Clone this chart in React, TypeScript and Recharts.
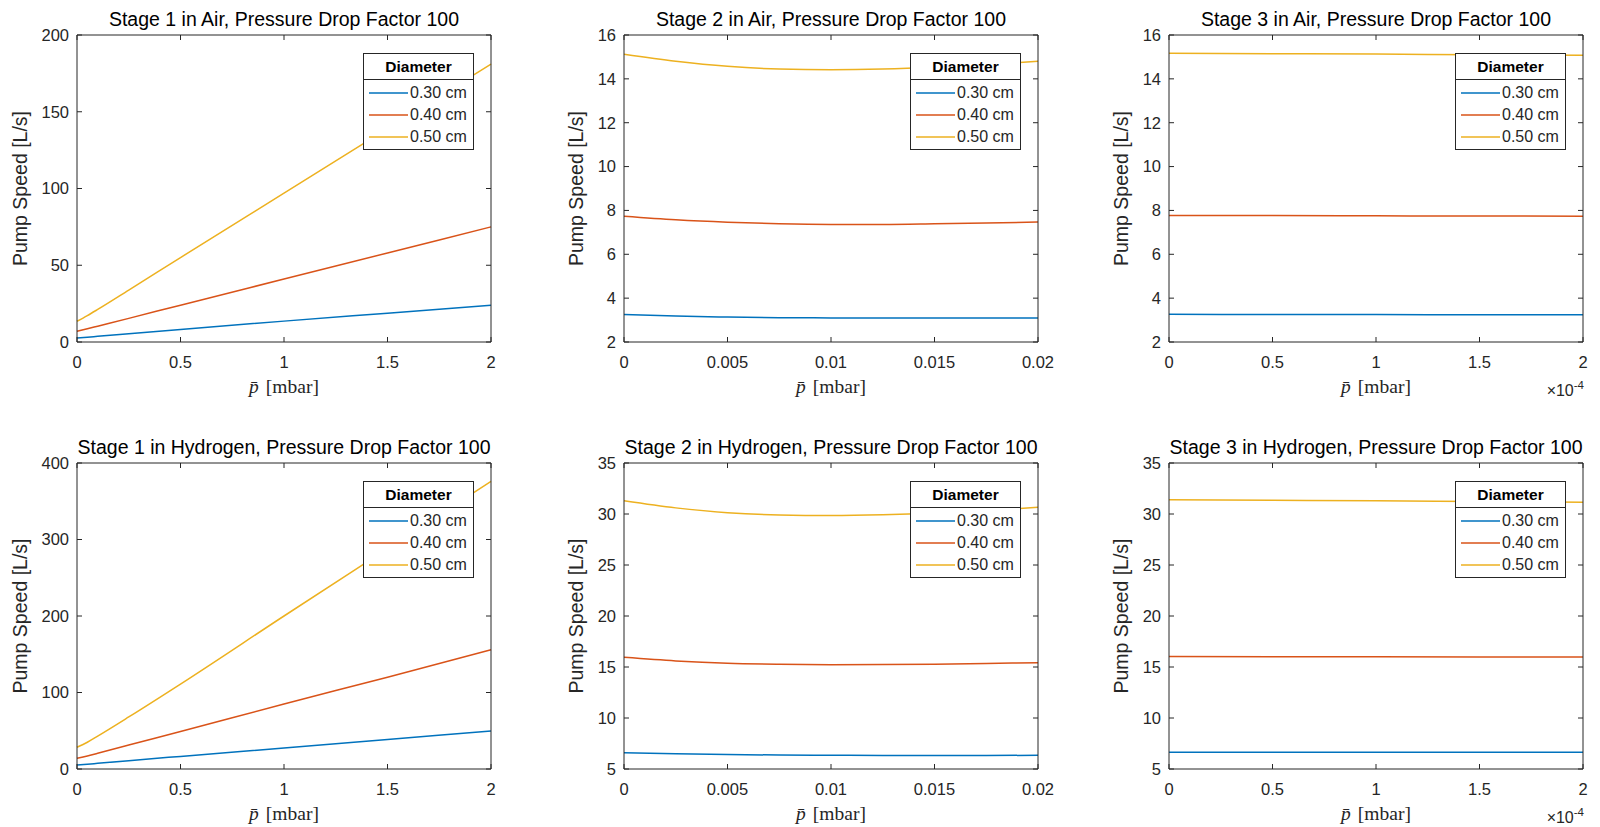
import { LineChart, Line, XAxis, YAxis, Legend, Label } from 'recharts'

// 2x3 grid of pump-speed curves, MATLAB-style boxed axes with inward ticks.

const FONT = '"Liberation Sans", Arial, Helvetica, sans-serif'
const SERIF = '"Liberation Serif", "DejaVu Serif", "Times New Roman", serif'
const INK = '#262626'

const diameters = ['0.30 cm', '0.40 cm', '0.50 cm']
const colors = ['#0072BD', '#D95319', '#EDB120']

// stage 1, p in mbar
const stage1P = [0, 0.05, 0.1, 0.25, 0.5, 1, 1.5, 2]
const s1AirD30 = [2.6, 3.1, 3.7, 5.4, 8.2, 13.6, 18.8, 24.0]
const s1AirD40 = [7.0, 8.6, 10.3, 15.4, 24.0, 41.0, 58.0, 75.0]
const s1AirD50 = [13.5, 17.2, 21.2, 33.8, 55.0, 97.0, 139.0, 181.0]
const s1H2D30 = [5.2, 6.2, 7.4, 10.9, 16.5, 27.5, 38.6, 49.7]
const s1H2D40 = [14.0, 17.0, 20.6, 31.3, 49.0, 85.0, 120.0, 156.0]
const s1H2D50 = [28.5, 35.0, 43.0, 68.0, 111.0, 200.0, 288.0, 376.0]

// stage 2
const stage2P = [0, 0.0025, 0.005, 0.0075, 0.01, 0.0125, 0.015, 0.0175, 0.02]
const s2AirD30 = [3.25, 3.18, 3.14, 3.11, 3.1, 3.09, 3.09, 3.09, 3.1]
const s2AirD40 = [7.73, 7.57, 7.46, 7.39, 7.36, 7.36, 7.39, 7.43, 7.47]
const s2AirD50 = [15.12, 14.8, 14.57, 14.45, 14.42, 14.45, 14.53, 14.65, 14.8]
const s2H2D30 = [6.6, 6.49, 6.42, 6.37, 6.35, 6.33, 6.33, 6.33, 6.34]
const s2H2D40 = [15.95, 15.6, 15.37, 15.27, 15.23, 15.24, 15.28, 15.35, 15.42]
const s2H2D50 = [31.3, 30.6, 30.12, 29.9, 29.85, 29.92, 30.08, 30.33, 30.65]

// stage 3
const stage3P = [0, 0.5e-4, 1e-4, 1.5e-4, 2e-4]
const s3AirD30 = [3.26, 3.255, 3.25, 3.245, 3.24]
const s3AirD40 = [7.77, 7.765, 7.755, 7.745, 7.74]
const s3AirD50 = [15.17, 15.15, 15.13, 15.1, 15.08]
const s3H2D30 = [6.65, 6.645, 6.64, 6.635, 6.63]
const s3H2D40 = [16.02, 16.01, 16.0, 15.99, 15.98]
const s3H2D50 = [31.4, 31.35, 31.3, 31.22, 31.15]

// tick labels
const stage1Ticks = [0, 0.5, 1, 1.5, 2]
const stage2Ticks = [0, 0.005, 0.01, 0.015, 0.02]
const stage3Ticks = [0, 0.5e-4, 1e-4, 1.5e-4, 2e-4]
const s1AirY = [0, 50, 100, 150, 200]
const s1H2Y = [0, 100, 200, 300, 400]
const airY = [2, 4, 6, 8, 10, 12, 14, 16]
const h2Y = [5, 10, 15, 20, 25, 30, 35]

const fmtPlain = (v: number) => String(v)
const fmtE4 = (v: number) => String(Math.round(v * 1e5) / 10)

// layout (page px)
const W = 414
const colLeft = [77, 624, 1169]
const rowTop = [35, 463]
const rowH = [307, 306]
const AX_L = 70
const AX_T = 40
const AX_R = 26
const AX_B = 62

interface PanelCfg {
  title: string
  x: number[]
  ys: number[][]
  xTicks: number[]
  yTicks: number[]
  fmt: (v: number) => string
  exp: boolean
  yLabOff: number
}

const panels: PanelCfg[] = [
  { title: 'Stage 1 in Air, Pressure Drop Factor 100', x: stage1P, ys: [s1AirD30, s1AirD40, s1AirD50], xTicks: stage1Ticks, yTicks: s1AirY, fmt: fmtPlain, exp: false, yLabOff: 55 },
  { title: 'Stage 2 in Air, Pressure Drop Factor 100', x: stage2P, ys: [s2AirD30, s2AirD40, s2AirD50], xTicks: stage2Ticks, yTicks: airY, fmt: fmtPlain, exp: false, yLabOff: 46 },
  { title: 'Stage 3 in Air, Pressure Drop Factor 100', x: stage3P, ys: [s3AirD30, s3AirD40, s3AirD50], xTicks: stage3Ticks, yTicks: airY, fmt: fmtE4, exp: true, yLabOff: 46 },
  { title: 'Stage 1 in Hydrogen, Pressure Drop Factor 100', x: stage1P, ys: [s1H2D30, s1H2D40, s1H2D50], xTicks: stage1Ticks, yTicks: s1H2Y, fmt: fmtPlain, exp: false, yLabOff: 55 },
  { title: 'Stage 2 in Hydrogen, Pressure Drop Factor 100', x: stage2P, ys: [s2H2D30, s2H2D40, s2H2D50], xTicks: stage2Ticks, yTicks: h2Y, fmt: fmtPlain, exp: false, yLabOff: 46 },
  { title: 'Stage 3 in Hydrogen, Pressure Drop Factor 100', x: stage3P, ys: [s3H2D30, s3H2D40, s3H2D50], xTicks: stage3Ticks, yTicks: h2Y, fmt: fmtE4, exp: true, yLabOff: 46 },
]

function LegendBox(props: any) {
  const items = props.payload ?? []
  return (
    <div style={{ width: 111, border: `1.3px solid ${INK}`, background: '#fff', fontFamily: FONT, boxSizing: 'border-box', color: INK }}>
      <div style={{ height: 25, borderBottom: `1px solid ${INK}`, fontWeight: 'bold', fontSize: 15.5, textAlign: 'center', lineHeight: '26px', color: '#000' }}>Diameter</div>
      <div style={{ padding: '2px 0 1px 0' }}>
        {items.map((it: any) => (
          <div key={it.value} style={{ display: 'flex', alignItems: 'center', height: 22 }}>
            <svg width={44} height={6} style={{ display: 'block' }}>
              <line x1={5} x2={44} y1={3} y2={3} stroke={it.color} strokeWidth={1.5} />
            </svg>
            <span style={{ marginLeft: 2, fontSize: 16, lineHeight: '22px', whiteSpace: 'nowrap' }}>{it.value}</span>
          </div>
        ))}
      </div>
    </div>
  )
}

function Panel({ cfg, left, top, h }: { cfg: PanelCfg; left: number; top: number; h: number }) {
  const data = cfg.x.map((p, i) => ({ p, d30: cfg.ys[0][i], d40: cfg.ys[1][i], d50: cfg.ys[2][i] }))
  const xDom = [cfg.xTicks[0], cfg.xTicks[cfg.xTicks.length - 1]]
  const yDom = [cfg.yTicks[0], cfg.yTicks[cfg.yTicks.length - 1]]
  const plotR = AX_L + W
  const plotB = AX_T + h
  const cx = AX_L + W / 2

  const titleLabel = () => (
    <text x={cx} y={AX_T - 9} textAnchor="middle" style={{ fontFamily: FONT, fontSize: '19.5px', fill: '#000' }}>{cfg.title}</text>
  )
  const xLabel = () => (
    <g>
      <text x={cx} y={plotB + 51} textAnchor="middle" style={{ fontFamily: SERIF, fontSize: '19.5px', fill: INK }}>
        <tspan fontStyle="italic">p&#772;</tspan>
        <tspan dx={7}>[mbar]</tspan>
      </text>
      {cfg.exp && (
        <text x={plotR + 1} y={plotB + 54} textAnchor="end" style={{ fontFamily: FONT, fontSize: '16px', fill: INK }}>
          ×10<tspan style={{ fontSize: '11.5px' }} dy={-7}>-4</tspan>
        </text>
      )}
    </g>
  )
  const yLabel = () => {
    const x = AX_L - cfg.yLabOff + 5
    const y = AX_T + h / 2
    return (
      <text x={x} y={y} transform={`rotate(-90, ${x}, ${y})`} textAnchor="middle" style={{ fontFamily: FONT, fontSize: '19.5px', fill: INK }}>Pump Speed [L/s]</text>
    )
  }
  const tickStyle = { fill: INK, fontSize: 16.5, fontFamily: FONT }
  const none = () => ''

  return (
    <div style={{ position: 'absolute', left: left - AX_L, top: top - AX_T }}>
      <LineChart width={AX_L + W + AX_R} height={AX_T + h + AX_B} data={data}
        margin={{ top: AX_T - 1, right: AX_R - 1, bottom: 0, left: 0 }} style={{ fontFamily: FONT }}>
        <XAxis dataKey="p" type="number" domain={xDom} ticks={cfg.xTicks} tickFormatter={cfg.fmt}
          height={AX_B} tickSize={-5} tickMargin={19} stroke={INK} tick={tickStyle} interval={0}
          label={<Label content={xLabel} />} />
        <XAxis xAxisId="top" dataKey="p" orientation="top" type="number" domain={xDom} ticks={cfg.xTicks}
          tickFormatter={none} height={1} tickSize={-5} tickMargin={0} stroke={INK} interval={0}
          label={<Label content={titleLabel} />} />
        <YAxis type="number" domain={yDom} ticks={cfg.yTicks} width={AX_L} tickSize={-5} tickMargin={13}
          stroke={INK} tick={tickStyle} interval={0} label={<Label content={yLabel} />} />
        <YAxis yAxisId="right" orientation="right" type="number" domain={yDom} ticks={cfg.yTicks}
          width={1} tickSize={-5} tickMargin={0} stroke={INK} tickFormatter={none} interval={0} />
        <Legend layout="vertical" align="center" verticalAlign="middle" content={LegendBox}
          wrapperStyle={{ left: plotR - 17 - 111, top: AX_T + 17.5, width: 111 }} />
        {['d30', 'd40', 'd50'].map((k, i) => (
          // the last series is bound to the top/right axes so those axes (the box frame) get drawn
          <Line key={k} dataKey={k} name={diameters[i]} stroke={colors[i]} strokeWidth={1.5} type="monotone"
            xAxisId={i === 2 ? 'top' : 0} yAxisId={i === 2 ? 'right' : 0}
            dot={false} activeDot={false} isAnimationActive={false} legendType="line" />
        ))}
      </LineChart>
    </div>
  )
}

export default function App() {
  return (
    <div style={{ position: 'absolute', left: 0, top: 0, width: 1600, height: 827, background: '#fff', overflow: 'hidden' }}>
      {panels.map((cfg, i) => {
        const r = Math.floor(i / 3)
        const c = i % 3
        return <Panel key={cfg.title} cfg={cfg} left={colLeft[c]} top={rowTop[r]} h={rowH[r]} />
      })}
    </div>
  )
}
